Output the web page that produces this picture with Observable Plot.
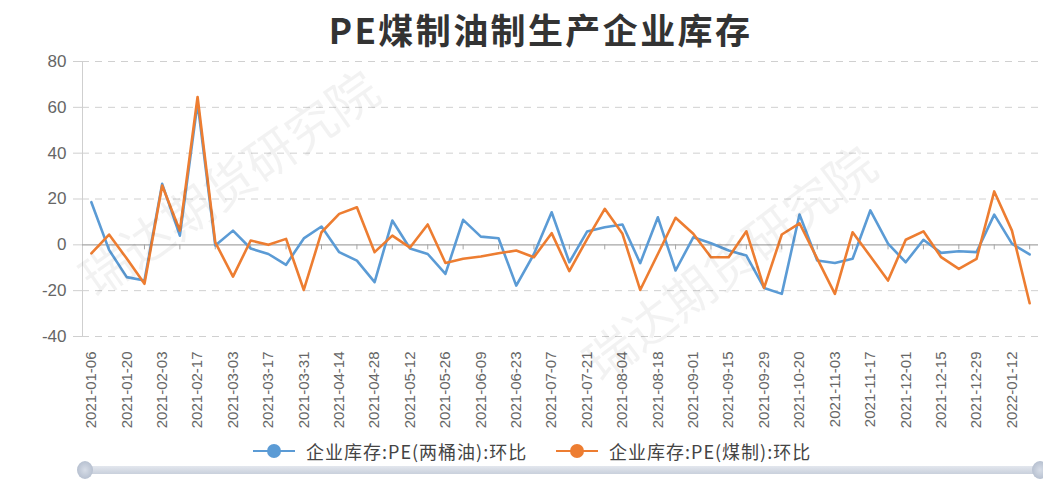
<!DOCTYPE html>
<html>
<head>
<meta charset="utf-8">
<script src="https://cdn.jsdelivr.net/npm/d3@7"></script>
<script src="https://cdn.jsdelivr.net/npm/@observablehq/plot@0.6"></script>
<style>
  html, body { margin: 0; padding: 0; background: #fff; }
  #wrap { position: relative; width: 1043px; height: 482px; overflow: hidden; font-family: "Liberation Sans", Arial, "Noto Sans CJK SC", sans-serif; }
  #title { height: 50px; line-height: 58px; text-align: center; padding-left: 38px; font-family: "Noto Sans CJK SC", sans-serif; font-weight: bold; font-size: 35px; letter-spacing: 2.4px; color: #333; }
  #chart svg { display: block; }
  .legend { position: absolute; top: 439px; height: 24px; display: flex; align-items: center; font-family: "Noto Sans CJK SC", sans-serif; font-size: 18px; letter-spacing: 1px; color: #444; }
  .legend svg { margin-right: 11px; }
  .wm { position: absolute; font-family: "Noto Sans CJK SC", sans-serif; font-size: 50px; color: rgba(0,0,0,0.05); white-space: nowrap; transform-origin: left center; }
  #slider { position: absolute; left: 85px; top: 466px; width: 955px; height: 8px; background: linear-gradient(#e3e7ee, #c9d0dc); border-radius: 4px; }
  .handle { position: absolute; top: 461px; width: 16px; height: 18px; border-radius: 50%; background: radial-gradient(#d7dde7, #aab5c7); }
</style>
</head>
<body>
<div id="wrap">
  <div id="title">PE煤制油制生产企业库存</div>
  <div id="chart"></div>
  <div class="wm" style="left:84px; top:245px; transform: rotate(-35deg);">瑞达期货研究院</div>
  <div class="wm" style="left:588px; top:330px; transform: rotate(-37deg);">瑞达期货研究院</div>
  <div id="legend1" class="legend" style="left:253px;"></div>
  <div id="legend2" class="legend" style="left:556px;"></div>
  <div id="slider"></div>
  <div class="handle" style="left:77px;"></div>
  <div class="handle" style="left:1032px;"></div>
</div>
<script>
const dates = [
  "2021-01-06","2021-01-13","2021-01-20","2021-01-27","2021-02-03","2021-02-10","2021-02-17","2021-02-24",
  "2021-03-03","2021-03-10","2021-03-17","2021-03-24","2021-03-31","2021-04-07","2021-04-14","2021-04-21",
  "2021-04-28","2021-05-05","2021-05-12","2021-05-19","2021-05-26","2021-06-02","2021-06-09","2021-06-16",
  "2021-06-23","2021-06-30","2021-07-07","2021-07-14","2021-07-21","2021-07-28","2021-08-04","2021-08-11",
  "2021-08-18","2021-08-25","2021-09-01","2021-09-08","2021-09-15","2021-09-22","2021-09-29","2021-10-13",
  "2021-10-20","2021-10-27","2021-11-03","2021-11-10","2021-11-17","2021-11-24","2021-12-01","2021-12-08",
  "2021-12-15","2021-12-22","2021-12-29","2022-01-05","2022-01-12","2022-01-19"
];
const oilChange = [
  18.6, -2.2, -14.1, -15.6, 26.6, 4, 62, -0.3,
  6.2, -1.6, -4, -8.7, 2.8, 8, -3.2, -6.9,
  -16.3, 10.6, -1.6, -4, -12.7, 10.9, 3.6, 2.9,
  -17.8, -4, 14.2, -7.6, 5.8, 7.7, 8.9, -8,
  12, -11.2, 3.3, 0.7, -2.5, -4.7, -18.8, -21.4,
  13.2, -6.8, -7.9, -6.1, 15, 0.5, -7.6, 2.2,
  -3.5, -2.8, -3.2, 13.2, 0.5, -4.2
];
const coalChange = [
  -3.7, 4.5, -6, -17, 25.9, 6.2, 64.5, 1.1,
  -13.9, 1.9, 0, 2.6, -19.7, 5.5, 13.5, 16.4,
  -3.2, 4, -1.2, 8.9, -7.9, -6.1, -5.1, -3.7,
  -2.5, -5.4, 5.1, -11.5, 2.5, 15.7, 4.8, -19.7,
  -4, 11.8, 4.8, -5.4, -5.4, 5.9, -18.8, 4.5,
  9.4, -6, -21.4, 5.5, -5, -15.6, 2.2, 5.9,
  -5.4, -10.5, -6.1, 23.3, 6.2, -25.5
];
const seriesNames = ["企业库存:PE(两桶油):环比", "企业库存:PE(煤制):环比"];
const seriesColors = ["#5b9bd5", "#ed7d31"];
const yTicks = [-40, -20, 0, 20, 40, 60, 80];

const labelDates = dates.filter((d, i) => i % 2 === 0);
const tickDates = dates.filter((d, i) => i % 2 === 1);

const rows = [];
dates.forEach((d, i) => rows.push({date: d, value: oilChange[i], name: seriesNames[0]}));
dates.forEach((d, i) => rows.push({date: d, value: coalChange[i], name: seriesNames[1]}));

const chart = Plot.plot({
  width: 1043,
  height: 381,
  marginLeft: 82,
  marginRight: 5,
  marginTop: 11,
  marginBottom: 95,
  style: {fontFamily: "'Liberation Sans', Arial, sans-serif", background: "#fff"},
  x: {type: "point", domain: dates, padding: 0.5, label: null},
  y: {domain: [-40, 80], label: null},
  color: {domain: seriesNames, range: seriesColors},
  marks: [
    Plot.gridY(yTicks.filter(v => v !== 0), {stroke: "#d0d0d0", strokeOpacity: 1, strokeDasharray: "7,6"}),
    Plot.ruleX([dates[0]], {stroke: "#cfcfcf", dx: -8.85}),
    Plot.axisY(yTicks, {tickSize: 9, tickPadding: 7, stroke: "#cfcfcf", fill: "#666", fontSize: 17, tickFormat: d => String(d), label: null}),
    Plot.ruleY([0], {stroke: "#a6a6a6", strokeWidth: 1.2}),
    Plot.ruleX(tickDates, {y1: 0, y2: 0, insetTop: 0, insetBottom: -5, stroke: "#a6a6a6"}),
    Plot.axisX(labelDates, {anchor: "bottom", tickSize: 0, tickPadding: 15, tickRotate: -90, fontSize: 15, fill: "#666", label: null}),
    Plot.line(rows, {x: "date", y: "value", z: "name", stroke: "name", strokeWidth: 2.6, strokeLinejoin: "round"})
  ]
});
document.getElementById("chart").appendChild(chart);

function legendItem(el, name, color) {
  el.innerHTML = `<svg width="42" height="16"><line x1="0" y1="8" x2="42" y2="8" stroke="${color}" stroke-width="2"/><circle cx="21" cy="8" r="7" fill="${color}"/></svg><span>${name}</span>`;
}
legendItem(document.getElementById("legend1"), seriesNames[0], seriesColors[0]);
legendItem(document.getElementById("legend2"), seriesNames[1], seriesColors[1]);
</script>
</body>
</html>
